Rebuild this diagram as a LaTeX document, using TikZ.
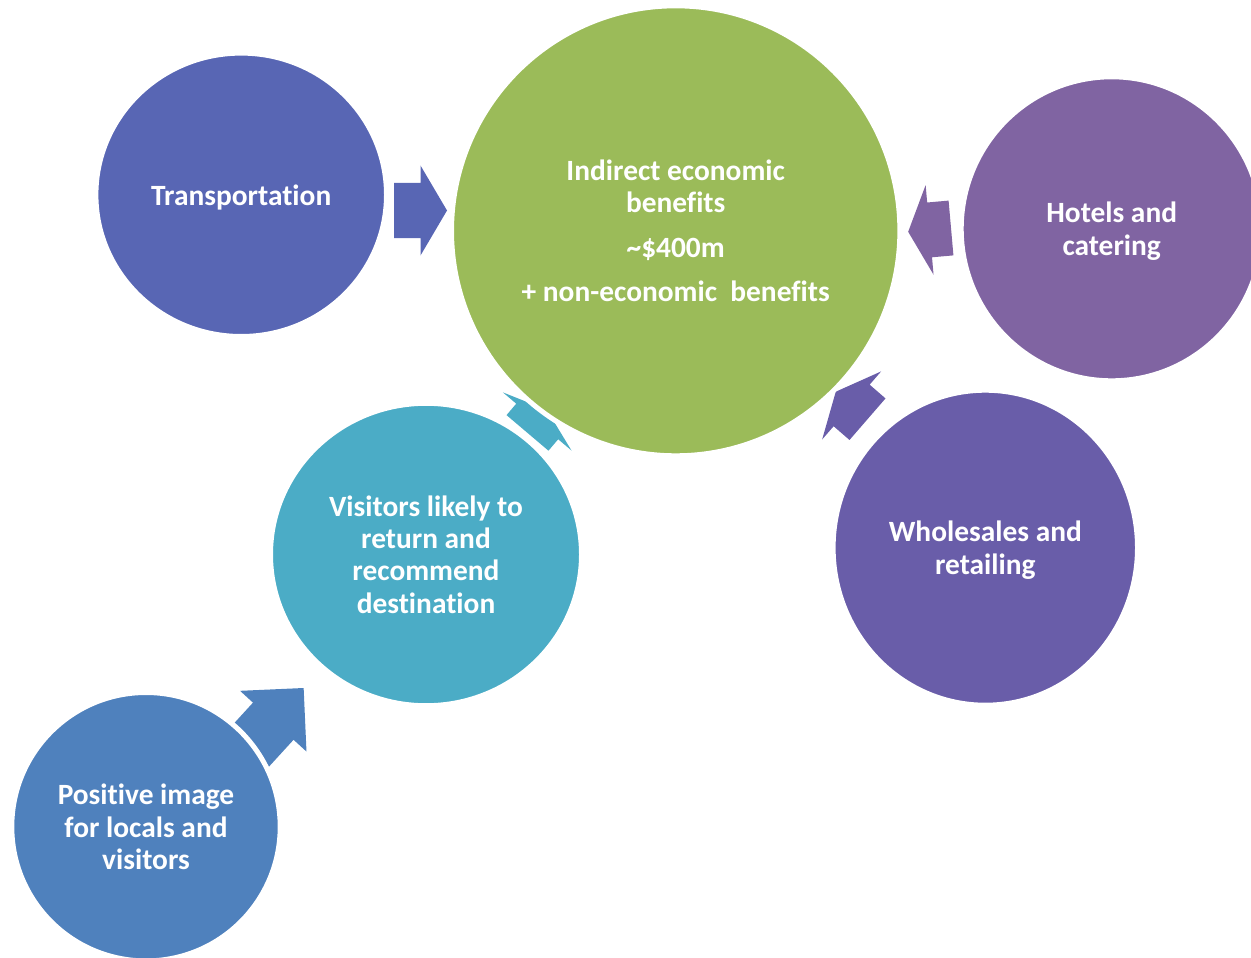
\documentclass[tikz,border=0pt]{standalone}
\usepackage{fontspec}
\setmainfont{Carlito}[RawFeature={-liga;-clig;-calt;-dlig}]
\usetikzlibrary{shapes.geometric}
\definecolor{cgreen}{HTML}{9BBB59}
\definecolor{ctrans}{HTML}{5866B4}
\definecolor{chotel}{HTML}{8064A2}
\definecolor{cwhole}{HTML}{695DA9}
\definecolor{cvisit}{HTML}{4BACC6}
\definecolor{cposit}{HTML}{4F81BD}
% block arrow: tail-mid x, tail-mid y, angle, length, colour
\newcommand\blockarr[5]{%
  \begin{scope}[shift={(#1,#2)},rotate=#3]
    \fill[#5] (0,-27.5) -- ({#4/2},-27.5) -- ({#4/2},-45) -- (#4,0)
      -- ({#4/2},45) -- ({#4/2},27.5) -- (0,27.5) -- cycle;
  \end{scope}}
\begin{document}
\begin{tikzpicture}[x=0.5pt,y=-0.5pt,
  bubble/.style={ellipse, draw=white, line width=2.5pt, inner sep=0pt,
    text=white, text depth=0pt, align=center,
    font=\bfseries\fontsize{14.7}{16.15}\selectfont}]
\useasboundingbox (0,0) rectangle (1251,957);
\clip (0,0) rectangle (1251,957);
% block arrows (behind the bubbles)
\blockarr{394}{210.5}{0}{53}{ctrans}
\blockarr{951}{228}{-174.95}{43}{chotel}
\blockarr{867.5}{419.2}{139.1}{42}{cwhole}
\blockarr{527.5}{432.9}{49.7}{30}{cvisit}
\blockarr{242.9}{754.4}{47.55}{90}{cposit}
% bubbles
\node[bubble, fill=cgreen, minimum width=224.2pt, minimum height=225pt] (green) at (675.7,230.8)
  {Indirect economic\\benefits\\[6.2pt]\textasciitilde\$400m\\[6.2pt]+ non-economic~ benefits};
\node[bubble, fill=ctrans, minimum width=145.3pt, minimum height=141.7pt] (trans) at (241.2,194.8)
  {Transportation};
\node[bubble, fill=chotel, minimum width=150.5pt, minimum height=152pt] (hotel) at (1111.7,228.8)
  {Hotels and\\catering};
\node[bubble, fill=cwhole, minimum width=152.2pt, minimum height=157.5pt] (whole) at (985.3,547.7)
  {Wholesales and\\retailing};
\node[bubble, fill=cvisit, minimum width=155.5pt, minimum height=151.2pt] (visit) at (426,554.5)
  {Visitors likely to\\return and\\recommend\\destination};
\node[bubble, fill=cposit, minimum width=134.2pt, minimum height=134.2pt] (posit) at (146,826.7)
  {Positive image\\for locals and\\visitors};
\end{tikzpicture}
\end{document}
